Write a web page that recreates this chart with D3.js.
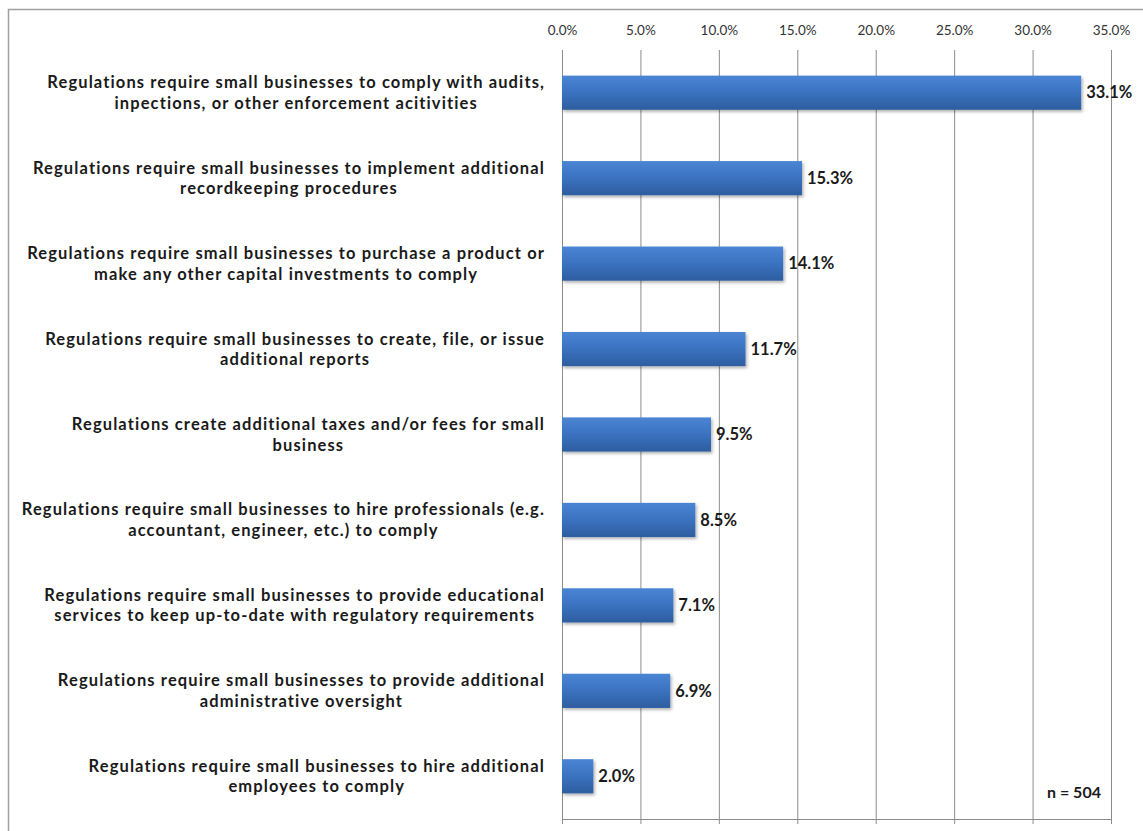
<!DOCTYPE html>
<html>
<head>
<meta charset="utf-8">
<script src="https://cdn.jsdelivr.net/npm/d3@7"></script>
<style>
  html, body { margin: 0; padding: 0; background: #fff; }
  svg { display: block; }
</style>
</head>
<body>
<svg id="chart" width="1143" height="831"></svg>
<script>
const categories = [
  ["Regulations require small businesses to comply with audits,", "inpections, or other enforcement acitivities"],
  ["Regulations require small businesses to implement additional", "recordkeeping procedures"],
  ["Regulations require small businesses to purchase a product or", "make any other capital investments to comply"],
  ["Regulations require small businesses to create, file, or issue", "additional reports"],
  ["Regulations create additional taxes and/or fees for small", "business"],
  ["Regulations require small businesses to hire professionals (e.g.", "accountant, engineer, etc.) to comply"],
  ["Regulations require small businesses to provide educational", "services to keep up-to-date with regulatory requirements"],
  ["Regulations require small businesses to provide additional", "administrative oversight"],
  ["Regulations require small businesses to hire additional", "employees to comply"]
];
const values = [33.1, 15.3, 14.1, 11.7, 9.5, 8.5, 7.1, 6.9, 2.0];
const tickValues = [0, 5, 10, 15, 20, 25, 30, 35];
const sampleNote = "n = 504";

const svg = d3.select("#chart");
const FONT = "Lato, 'Open Sans', sans-serif";

// outer frame
svg.append("rect").attr("x", 8.5).attr("y", 9.5).attr("width", 1200).attr("height", 900)
  .attr("fill", "none").attr("stroke", "#a0a0a0").attr("stroke-width", 1.5);

const plot = { left: 562, right: 1111, top: 50, bottom: 819 };
const x = d3.scaleLinear().domain([0, 35]).range([plot.left, plot.right]);
const y = d3.scaleBand().domain(d3.range(categories.length)).range([plot.top, plot.bottom]).paddingInner(0.6).paddingOuter(0.3);

const defs = svg.append("defs");
const grad = defs.append("linearGradient").attr("id", "barGrad").attr("x1", 0).attr("y1", 0).attr("x2", 0).attr("y2", 1);
grad.append("stop").attr("offset", "0%").attr("stop-color", "#4a85d3");
grad.append("stop").attr("offset", "45%").attr("stop-color", "#3c74c2");
grad.append("stop").attr("offset", "100%").attr("stop-color", "#2d5d9f");
const shadow = defs.append("filter").attr("id", "shadow").attr("x", "-5%").attr("y", "-20%").attr("width", "120%").attr("height", "160%");
shadow.append("feDropShadow").attr("dx", 1.5).attr("dy", 2).attr("stdDeviation", 1.5).attr("flood-color", "#000").attr("flood-opacity", 0.3);

// gridlines
const grid = svg.append("g");
grid.selectAll("line").data(tickValues).join("line")
  .attr("x1", d => x(d) + 0.5).attr("x2", d => x(d) + 0.5)
  .attr("y1", plot.top).attr("y2", plot.bottom + 5)
  .attr("stroke", "#8c8c8c").attr("stroke-width", 1);
svg.append("line").attr("x1", plot.left).attr("x2", plot.right + 1)
  .attr("y1", plot.bottom + 0.5).attr("y2", plot.bottom + 0.5)
  .attr("stroke", "#8c8c8c").attr("stroke-width", 1);

// top axis labels
const axis = d3.axisTop(x).tickValues(tickValues).tickFormat(d => d.toFixed(1) + "%").tickSize(0).tickPadding(0);
const axG = svg.append("g").attr("transform", `translate(0, 35)`).call(axis);
axG.select(".domain").remove();
axG.selectAll("text").attr("font-family", FONT).attr("font-size", 13.5).attr("fill", "#333");

// bars
const bandCenter = i => y(i) + y.bandwidth() / 2;
svg.append("g").selectAll("rect").data(values).join("rect")
  .attr("x", x(0)).attr("y", (d, i) => y(i))
  .attr("width", d => x(d) - x(0)).attr("height", y.bandwidth())
  .attr("fill", "url(#barGrad)").attr("filter", "url(#shadow)");

// value labels
svg.append("g").selectAll("text").data(values).join("text")
  .attr("x", d => x(d) + 5).attr("y", (d, i) => bandCenter(i))
  .attr("dy", "0.35em")
  .attr("font-family", FONT).attr("font-weight", "bold").attr("font-size", 16.5).attr("fill", "#1a1a1a")
  .text(d => d.toFixed(1) + "%");

// category labels: block right-aligned at 545, lines centered within block
const labelRight = 545;
const fontSize = 16.5;
const catG = svg.append("g");
const probe = catG.append("text").attr("font-family", FONT).attr("font-weight", "bold").attr("font-size", fontSize).text(categories[0][0]);
const wProbe = probe.node().getComputedTextLength();
probe.remove();
const letterSp = Math.max(0, (498 - wProbe) / categories[0][0].length);

categories.forEach((lines, i) => {
  const g = catG.append("g");
  const texts = lines.map((l, j) => g.append("text")
    .attr("font-family", FONT).attr("font-weight", "bold").attr("font-size", fontSize)
    .attr("letter-spacing", letterSp)
    .attr("fill", "#1a1a1a").attr("text-anchor", "middle")
    .attr("y", bandCenter(i) + (j - (lines.length - 1) / 2) * 20.5)
    .attr("dy", "0.35em").text(l));
  const maxW = d3.max(texts, t => t.node().getComputedTextLength());
  texts.forEach(t => t.attr("x", labelRight - maxW / 2));
});

// sample note
svg.append("text").attr("x", 1074).attr("y", 792).attr("dy", "0.35em").attr("text-anchor", "middle")
  .attr("font-family", FONT).attr("font-weight", "bold").attr("font-size", 16).attr("fill", "#1a1a1a")
  .text(sampleNote);
</script>
</body>
</html>
